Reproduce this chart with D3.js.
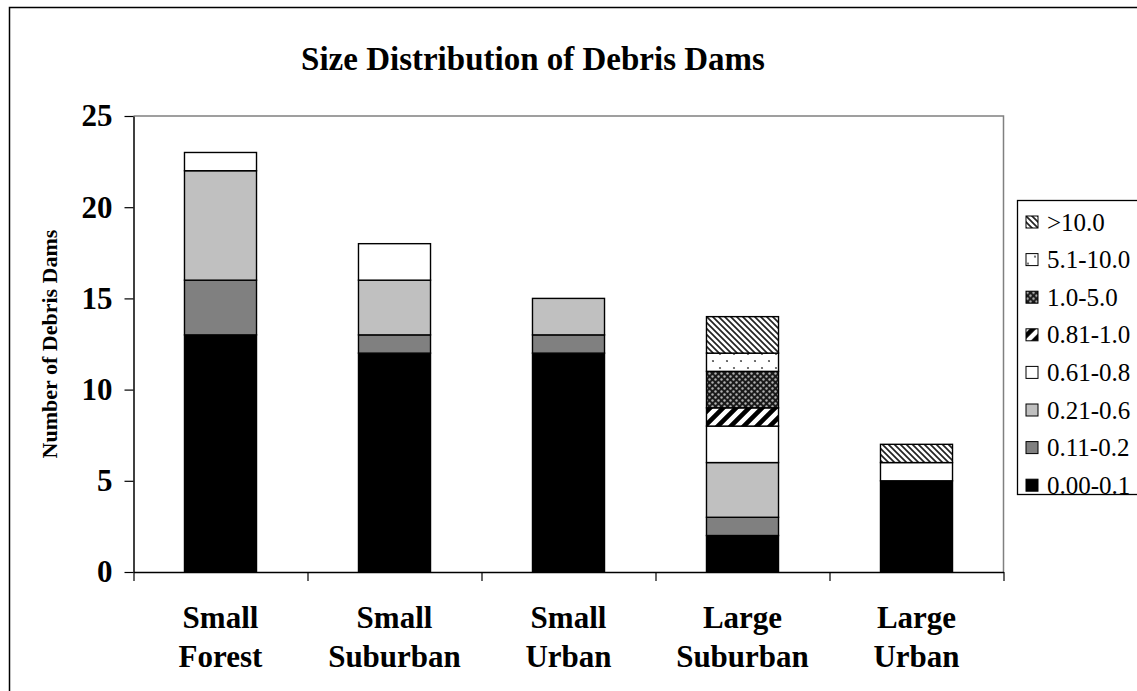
<!DOCTYPE html>
<html><head><meta charset="utf-8">
<script src="https://cdn.jsdelivr.net/npm/d3@7"></script>
<style>
body{margin:0;background:#fff}
svg{display:block}
</style>
</head><body>
<svg id="chart" width="1137" height="691"></svg>
<script>
// Site groups (two-line labels)
const categories = [["Small","Forest"],["Small","Suburban"],["Small","Urban"],["Large","Suburban"],["Large","Urban"]];
// Size classes (bottom of the stack first)
const sizeClasses = ["0.00-0.1","0.11-0.2","0.21-0.6","0.61-0.8","0.81-1.0","1.0-5.0","5.1-10.0",">10.0"];
// Dam counts per size class, one array per site group
const smallForest   = [13, 3, 6, 1, 0, 0, 0, 0];
const smallSuburban = [12, 1, 3, 2, 0, 0, 0, 0];
const smallUrban    = [12, 1, 2, 0, 0, 0, 0, 0];
const largeSuburban = [ 2, 1, 3, 2, 1, 2, 1, 2];
const largeUrban    = [ 5, 0, 0, 1, 0, 0, 0, 1];
const yTicks = [0, 5, 10, 15, 20, 25];

const serif = '"Liberation Serif","Times New Roman",serif';
const counts = [smallForest, smallSuburban, smallUrban, largeSuburban, largeUrban];
const catKeys = categories.map(c => c.join(" "));
const rows = counts.map((arr, i) => {
  const r = {cat: catKeys[i]};
  sizeClasses.forEach((k, j) => r[k] = arr[j]);
  return r;
});

const svg = d3.select("#chart").attr("font-family", serif);
const defs = svg.append("defs");

// Fill patterns
const fills = {
  "0.00-0.1": "#000000",
  "0.11-0.2": "#808080",
  "0.21-0.6": "#c0c0c0",
  "0.61-0.8": "#ffffff",
  "0.81-1.0": "url(#pStripeWide)",
  "1.0-5.0": "url(#pDark)",
  "5.1-10.0": "url(#pDots)",
  ">10.0": "url(#pHatch)"
};

let p = defs.append("pattern").attr("id","pHatch").attr("patternUnits","userSpaceOnUse").attr("width",6).attr("height",6);
p.append("rect").attr("width",6).attr("height",6).attr("fill","#fff");
p.append("path").attr("d","M-3,3 L3,9 M0,0 L6,6 M3,-3 L9,3").attr("stroke","#222").attr("stroke-width",1.7);

p = defs.append("pattern").attr("id","pStripeWide").attr("patternUnits","userSpaceOnUse").attr("width",13).attr("height",13);
p.append("rect").attr("width",13).attr("height",13).attr("fill","#fff");
p.append("path").attr("d","M-6.5,6.5 L6.5,-6.5 M0,13 L13,0 M6.5,19.5 L19.5,6.5").attr("stroke","#000").attr("stroke-width",4.6);

p = defs.append("pattern").attr("id","pDark").attr("patternUnits","userSpaceOnUse").attr("width",6).attr("height",6);
p.append("rect").attr("width",6).attr("height",6).attr("fill","#1a1a1a");
p.append("circle").attr("cx",1.5).attr("cy",1.5).attr("r",1.2).attr("fill","#b0b0b0");
p.append("circle").attr("cx",4.5).attr("cy",4.5).attr("r",1.2).attr("fill","#b0b0b0");

p = defs.append("pattern").attr("id","pDots").attr("patternUnits","userSpaceOnUse").attr("width",14).attr("height",14);
p.append("rect").attr("width",14).attr("height",14).attr("fill","#fff");
p.append("circle").attr("cx",6).attr("cy",4).attr("r",1.1).attr("fill","#555");
p.append("circle").attr("cx",13).attr("cy",11).attr("r",1.1).attr("fill","#555");

// Chart frame
svg.append("rect").attr("x",9.5).attr("y",7.5).attr("width",1300).attr("height",700)
  .attr("fill","none").attr("stroke","#000").attr("stroke-width",1.5);

// Plot geometry
const plotL = 133.5, plotR = 1003.5, plotT = 116, plotB = 572;
const x = d3.scaleBand().domain(catKeys).range([plotL, plotR]).paddingInner(0.586).paddingOuter(0.293);
const y = d3.scaleLinear().domain([0, 25]).range([plotB, plotT]);

// Plot area border (top and right)
svg.append("path").attr("d", `M${plotL},${plotT}H${plotR}V${plotB}`)
  .attr("fill","none").attr("stroke","#808080").attr("stroke-width",1.5);

// Title
svg.append("text").attr("x",533).attr("y",70).attr("text-anchor","middle")
  .attr("font-size",33).attr("font-weight","bold").text("Size Distribution of Debris Dams");

// Stacked bars
const stack = d3.stack().keys(sizeClasses);
const series = stack(rows);
svg.append("g").selectAll("g").data(series).join("g")
  .attr("fill", d => fills[d.key])
  .selectAll("rect").data(d => d.filter(s => s[1] - s[0] > 0)).join("rect")
  .attr("x", d => x(d.data.cat))
  .attr("width", x.bandwidth())
  .attr("y", d => y(d[1]))
  .attr("height", d => y(d[0]) - y(d[1]))
  .attr("stroke","#000").attr("stroke-width",1.4);

// Y axis
const yAxis = svg.append("g").attr("transform",`translate(${plotL},0)`)
  .call(d3.axisLeft(y).tickValues(yTicks).tickSize(9).tickSizeOuter(0).tickPadding(12));
yAxis.attr("font-family", serif);
yAxis.select(".domain").attr("stroke","#000").attr("stroke-width",1.5);
yAxis.selectAll(".tick line").attr("stroke","#000").attr("stroke-width",1.2);
yAxis.selectAll(".tick text").attr("font-size",31).attr("font-weight","bold").attr("fill","#000");

// X axis with ticks on category boundaries
const xb = d3.scaleLinear().domain([0, categories.length]).range([plotL, plotR]);
const xAxis = svg.append("g").attr("transform",`translate(0,${plotB})`)
  .call(d3.axisBottom(xb).tickValues(d3.range(categories.length + 1)).tickSize(9).tickSizeOuter(0).tickFormat(""));
xAxis.select(".domain").attr("stroke","#000").attr("stroke-width",1.5);
xAxis.selectAll(".tick line").attr("stroke","#000").attr("stroke-width",1.2);

// Category labels
const cx = i => x(catKeys[i]) + x.bandwidth() / 2;
const lbl = svg.append("g").selectAll("text").data(categories).join("text")
  .attr("text-anchor","middle").attr("font-size",31).attr("font-weight","bold");
lbl.append("tspan").attr("x", (d, i) => cx(i)).attr("y",628).text(d => d[0]);
lbl.append("tspan").attr("x", (d, i) => cx(i)).attr("y",667).text(d => d[1]);

// Y axis title
svg.append("text").attr("transform","translate(57,344) rotate(-90)").attr("text-anchor","middle")
  .attr("font-size",22).attr("font-weight","bold").text("Number of Debris Dams");

// Legend (top entry is the last size class)
const legend = svg.append("g");
legend.append("rect").attr("x",1017.5).attr("y",200.5).attr("width",200).attr("height",294)
  .attr("fill","#fff").attr("stroke","#000").attr("stroke-width",1.3);
const legendOrder = sizeClasses.slice().reverse();
const li = legend.selectAll("g.item").data(legendOrder).join("g").attr("class","item")
  .attr("transform", (d, i) => `translate(0,${222 + i * 37.6})`);
li.append("rect").attr("x",1026).attr("y",-6).attr("width",12).attr("height",12)
  .attr("fill", d => fills[d]).attr("stroke","#000").attr("stroke-width",1);
li.append("text").attr("x",1047).attr("y",8.5).attr("font-size",25).text(d => d);
</script>
</body></html>
